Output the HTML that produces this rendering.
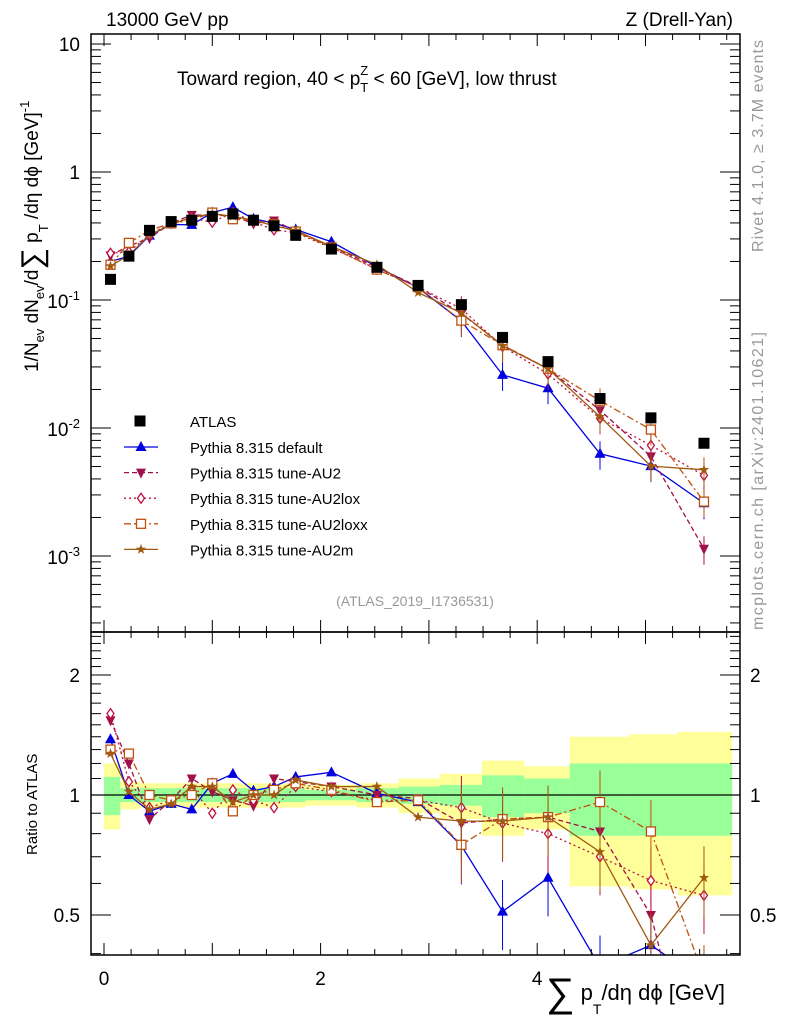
<!DOCTYPE html>
<html><head><meta charset="utf-8"><style>
html,body{margin:0;background:#fff;width:786px;height:1024px;overflow:hidden;position:relative;}
svg{display:block;font-family:"Liberation Sans",sans-serif;}
</style></head><body>
<svg id="c" width="786" height="1024" viewBox="0 0 786 1024" xmlns="http://www.w3.org/2000/svg" style="position:absolute;left:0;top:0"></svg>
<script>
const xs=[0.06,0.23,0.42,0.62,0.81,1.0,1.19,1.38,1.57,1.77,2.1,2.52,2.9,3.3,3.68,4.1,4.58,5.05,5.54];
const binEdges=[0,0.15,0.33,0.52,0.72,0.91,1.1,1.29,1.48,1.67,1.86,2.33,2.72,3.1,3.49,3.88,4.3,4.85,5.3,5.8];
const atlas=[0.145,0.22,0.35,0.41,0.42,0.45,0.47,0.42,0.38,0.32,0.25,0.18,0.13,0.092,0.051,0.033,0.017,0.012,0.0076];
const rDefault=[1.38,1.0,0.91,0.95,0.92,1.07,1.13,1.025,1.05,1.11,1.14,1.01,0.96,0.746,0.51,0.62,0.37,0.42,0.34];
const rAU2=[1.54,1.2,0.87,0.97,1.1,1.02,0.97,0.94,1.1,1.08,1.05,1.0,0.98,0.85,0.87,0.88,0.81,0.5,0.15];
const rAU2lox=[1.6,1.08,0.93,0.97,1.04,0.9,1.03,0.97,0.93,1.05,1.02,0.97,0.97,0.93,0.85,0.8,0.7,0.61,0.56];
const rAU2loxx=[1.3,1.27,1.0,0.97,1.0,1.07,0.91,1.0,1.03,1.07,1.03,0.96,0.97,0.75,0.87,0.88,0.96,0.81,0.35];
const rAU2m=[1.27,1.02,0.92,0.95,1.05,1.05,0.96,1.0,1.0,1.09,1.05,1.05,0.88,0.86,0.86,0.88,0.72,0.42,0.62];
const greenUp=[1.11,1.04,1.04,1.04,1.04,1.04,1.04,1.04,1.04,1.04,1.03,1.04,1.05,1.06,1.12,1.1,1.2,1.2,1.2];
const greenDn=[0.89,0.96,0.96,0.96,0.96,0.96,0.96,0.96,0.96,0.96,0.97,0.96,0.95,0.94,0.88,0.9,0.79,0.79,0.79];
const yellowUp=[1.2,1.08,1.07,1.07,1.07,1.07,1.07,1.07,1.07,1.07,1.06,1.07,1.1,1.13,1.22,1.18,1.4,1.42,1.44];
const yellowDn=[0.82,0.92,0.93,0.93,0.93,0.93,0.93,0.93,0.93,0.93,0.94,0.93,0.9,0.87,0.79,0.82,0.59,0.58,0.56];
const xTicks=[0,2,4];
const series=[
 {name:"Pythia 8.315 default",key:"series-default",r:rDefault,color:"#0000e0",dash:"",mk:"tri"},
 {name:"Pythia 8.315 tune-AU2",key:"series-au2",r:rAU2,color:"#a0104a",dash:"5,3",mk:"tridn"},
 {name:"Pythia 8.315 tune-AU2lox",key:"series-au2lox",r:rAU2lox,color:"#c01040",dash:"2,3",mk:"dia"},
 {name:"Pythia 8.315 tune-AU2loxx",key:"series-au2loxx",r:rAU2loxx,color:"#c05010",dash:"7,3,2,3",mk:"sq"},
 {name:"Pythia 8.315 tune-AU2m",key:"series-au2m",r:rAU2m,color:"#a05a10",dash:"",mk:"star"}];

const NS="http://www.w3.org/2000/svg",svg=document.getElementById('c');
const L=91,R=740,T=34,MB=632,RB=955;
const X=v=>104+v*108.3;
const Y=v=>44+(1-Math.log10(v))*128;
const RY=v=>795-Math.log10(v)*398.6;
function el(t,a,p){const e=document.createElementNS(NS,t);for(const k in a)e.setAttribute(k,a[k]);(p||svg).appendChild(e);return e;}
function txt(s,x,y,a,p){const e=el('text',Object.assign({x:x,y:y},a),p);e.textContent=s;return e;}

const defs=el('defs',{});
const c1=el('clipPath',{id:'cm'},defs);el('rect',{x:L,y:T,width:R-L,height:MB-T},c1);
const c2=el('clipPath',{id:'cr'},defs);el('rect',{x:L,y:MB,width:R-L,height:RB-MB},c2);

const gb=el('g',{'clip-path':'url(#cr)'});


for(let i=0;i<xs.length;i++){
 const x0=X(binEdges[i]),x1=X(binEdges[i+1]);
 const y=el('rect',{x:x0,y:RY(yellowUp[i]),width:x1-x0,height:RY(yellowDn[i])-RY(yellowUp[i]),fill:'#ffff99'},gb);
 
 
}
for(let i=0;i<xs.length;i++){
 const x0=X(binEdges[i]),x1=X(binEdges[i+1]);
 const g=el('rect',{x:x0,y:RY(greenUp[i]),width:x1-x0,height:RY(greenDn[i])-RY(greenUp[i]),fill:'#99ff99'},gb);
 
 
}
el('line',{x1:L,x2:R,y1:RY(1),y2:RY(1),stroke:'#000','stroke-width':1.3});

function marker(type,x,y,c,p,s){
 s=s||1;
 if(type==='tri')return el('polygon',{points:`${x},${y-6*s} ${x-5.5*s},${y+4*s} ${x+5.5*s},${y+4*s}`,fill:c},p);
 if(type==='tridn')return el('polygon',{points:`${x},${y+6*s} ${x-5*s},${y-4*s} ${x+5*s},${y-4*s}`,fill:c},p);
 if(type==='dia')return el('polygon',{points:`${x},${y-5} ${x-3.5},${y} ${x},${y+5} ${x+3.5},${y}`,fill:'#fff',stroke:c,'stroke-width':1.3},p);
 if(type==='sq')return el('rect',{x:x-4.5,y:y-4.5,width:9,height:9,fill:'#fff',stroke:c,'stroke-width':1.3},p);
 if(type==='star'){let pts=[];for(let k=0;k<10;k++){const r=k%2?2.2:5.5,a=-Math.PI/2+k*Math.PI/5;pts.push((x+r*Math.cos(a)).toFixed(1)+','+(y+r*Math.sin(a)).toFixed(1));}return el('polygon',{points:pts.join(' '),fill:c},p);}
 if(type==='box')return el('rect',{x:x-5.5,y:y-5.5,width:11,height:11,fill:c},p);
}

series.forEach(s=>{
 ['m','r'].forEach(pn=>{
  const g=el('g',{'clip-path':pn==='m'?'url(#cm)':'url(#cr)'});
  
  
  const pts=xs.map((x,i)=>[X(x),pn==='m'?Y(atlas[i]*s.r[i]):RY(s.r[i])]);
  el('polyline',{points:pts.map(p=>p.join(',')).join(' '),fill:'none',stroke:s.color,'stroke-width':1.3,'stroke-dasharray':s.dash},g);
  pts.forEach((p,i)=>{
   if(i>=13){const e=pn==='m'?0.25:0.2;const top=pn==='m'?Y(atlas[i]*s.r[i]*(1+e)):RY(s.r[i]*(1+e)),bot=pn==='m'?Y(atlas[i]*s.r[i]*(1-e)):RY(s.r[i]*(1-e));
    el('line',{x1:p[0],x2:p[0],y1:top,y2:bot,stroke:s.color,'stroke-width':1},g);}
   const m=marker(s.mk,p[0],p[1],s.color,g);
   
   
  });
 });
});
const ga=el('g',{'clip-path':'url(#cm)'});


xs.forEach((x,i)=>{const m=marker('box',X(x),Y(atlas[i]),'#000',ga);
 
 });

el('rect',{x:L,y:T,width:R-L,height:MB-T,fill:'none',stroke:'#000','stroke-width':1.5});
el('rect',{x:L,y:MB,width:R-L,height:RB-MB,fill:'none',stroke:'#000','stroke-width':1.5});
for(let v=0;v<=5.8;v+=0.25){const x=X(v);if(x<L||x>R)continue;const big=Math.abs(v%1)<1e-6;const h=big?12:6;
 [[T,1],[MB,-1],[MB,1],[RB,-1]].forEach(([y0,d])=>el('line',{x1:x,x2:x,y1:y0,y2:y0+d*h,stroke:'#000','stroke-width':1}));}
xTicks.forEach(v=>{const t=txt(String(v),X(v),985,{'font-size':19,'text-anchor':'middle'});
 
 });
for(let d=-4;d<=1;d++)for(let k=1;k<10;k++){const v=k*Math.pow(10,d);const y=Y(v);if(y<T||y>MB)continue;const h=k===1?20:10;
 el('line',{x1:L,x2:L+h,y1:y,y2:y,stroke:'#000'});el('line',{x1:R,x2:R-h,y1:y,y2:y,stroke:'#000'});}
const yl=[["10",10],["1",1]];
yl.forEach(([s,v])=>{const t=txt(s,80,Y(v)+7,{'font-size':19,'text-anchor':'end'});});
[[-1,0.1],[-2,0.01],[-3,0.001]].forEach(([e,v])=>{const t=el('text',{x:80,y:Y(v)+8,'font-size':19,'text-anchor':'end'});
 
 t.innerHTML='10<tspan dy="-8" font-size="13">'+e+'</tspan>';});
[0.4,0.5,0.6,0.7,0.8,0.9,1,1.1,1.2,1.3,1.4,1.5,1.6,1.7,1.8,1.9,2,2.1,2.2,2.3,2.4,2.5].forEach(v=>{const y=RY(v);if(y<MB||y>RB)return;
 const big=(v===0.5||v===1||v===2);const h=big?20:10;
 el('line',{x1:L,x2:L+h,y1:y,y2:y,stroke:'#000'});el('line',{x1:R,x2:R-h,y1:y,y2:y,stroke:'#000'});});
[["2",2],["1",1],["0.5",0.5]].forEach(([s,v])=>{
 const a=txt(s,80,RY(v)+7,{'font-size':19,'text-anchor':'end'});
 const b=txt(s,750,RY(v)+7,{'font-size':19,'text-anchor':'start'});});

const lg=el('g',{});


marker('box',140,421,'#000',lg);
txt('ATLAS',190,427,{'font-size':15},lg);
series.forEach((s,i)=>{const y=447+i*25.6;
 el('line',{x1:124,x2:158,y1:y,y2:y,stroke:s.color,'stroke-width':1.3,'stroke-dasharray':s.dash},lg);
 marker(s.mk,141,y,s.color,lg);
 const t=txt(s.name,190,y+6,{'font-size':15},lg);
 
 });
</script>
<svg width="786" height="1024" style="position:absolute;left:0;top:0" xmlns="http://www.w3.org/2000/svg" font-family="Liberation Sans, sans-serif">
<text x="106" y="26" font-size="19">13000 GeV pp</text>
<text x="733" y="26" font-size="19" text-anchor="end">Z (Drell-Yan)</text>
<text x="177" y="85" font-size="19">Toward region, 40 &lt; p<tspan dy="7" font-size="13">T</tspan><tspan dy="-17" dx="-8" font-size="13">Z</tspan><tspan dy="10"> &lt; 60 [GeV], low thrust</tspan></text>
<text x="415" y="606" font-size="14" fill="#999" text-anchor="middle">(ATLAS_2019_I1736531)</text>
<text transform="translate(763,252) rotate(-90)" font-size="16" textLength="212" fill="#999">Rivet 4.1.0, ≥ 3.7M events</text>
<text transform="translate(763,630) rotate(-90)" font-size="16" textLength="298" fill="#999">mcplots.cern.ch [arXiv:2401.10621]</text>
<text transform="translate(37,855) rotate(-90)" font-size="15">Ratio to ATLAS</text>
<text transform="translate(38,372) rotate(-90)" font-size="19">1/N<tspan dy="6" font-size="13">ev</tspan><tspan dy="-6"> dN</tspan><tspan dy="6" font-size="13">ev</tspan><tspan dy="-6">/d</tspan><tspan font-size="30" dy="4">∑</tspan><tspan dy="-4"> p</tspan><tspan dy="10" font-size="13">T</tspan><tspan dy="-10"> /dη dϕ  [GeV]</tspan><tspan dy="-9" font-size="13">-1</tspan></text>
<text x="546" y="1000" font-size="22"><tspan font-size="40" dy="6">∑</tspan><tspan dy="-6"> p</tspan><tspan dy="14" font-size="14">T</tspan><tspan dy="-14">/dη dϕ [GeV]</tspan></text>
</svg>
</body></html>
